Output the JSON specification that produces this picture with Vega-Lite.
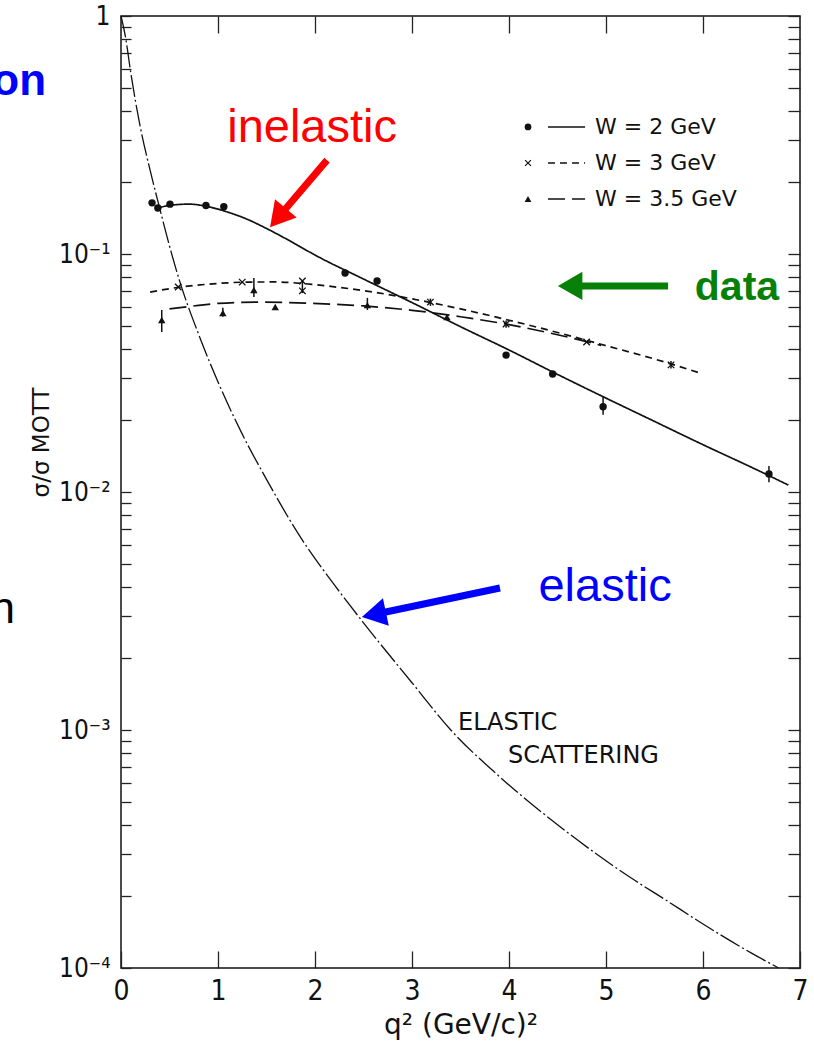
{
  "$schema": "https://vega.github.io/schema/vega-lite/v6.json",
  "width": 679,
  "height": 952,
  "autosize": {"type": "none"},
  "padding": {"left": 121, "top": 16, "right": 14, "bottom": 87},
  "background": "white",
  "config": {
    "view": {"stroke": "#111", "strokeWidth": 1.5},
    "axis": {"domain": false, "grid": false, "tickColor": "#222", "tickWidth": 1.3, "labelColor": "#111", "titleColor": "#111", "titleFontWeight": "normal"}
  },
  "resolve": {"axis": {"x": "independent", "y": "independent"}},
  "datasets": {
    "curves": [
      {"s": "W2", "q2": 0.38, "r": 0.156}, {"s": "W2", "q2": 0.5, "r": 0.160}, {"s": "W2", "q2": 0.7, "r": 0.162}, {"s": "W2", "q2": 0.9, "r": 0.158},
      {"s": "W2", "q2": 1.1, "r": 0.150}, {"s": "W2", "q2": 1.3, "r": 0.140}, {"s": "W2", "q2": 1.5, "r": 0.128}, {"s": "W2", "q2": 1.75, "r": 0.113},
      {"s": "W2", "q2": 2.0, "r": 0.099}, {"s": "W2", "q2": 2.5, "r": 0.0785}, {"s": "W2", "q2": 3.0, "r": 0.0625}, {"s": "W2", "q2": 3.5, "r": 0.0495},
      {"s": "W2", "q2": 4.0, "r": 0.0395}, {"s": "W2", "q2": 4.5, "r": 0.0312}, {"s": "W2", "q2": 5.0, "r": 0.0248}, {"s": "W2", "q2": 5.5, "r": 0.0198},
      {"s": "W2", "q2": 6.0, "r": 0.0158}, {"s": "W2", "q2": 6.5, "r": 0.0127}, {"s": "W2", "q2": 6.88, "r": 0.0107},
      {"s": "W3", "q2": 0.3, "r": 0.0692}, {"s": "W3", "q2": 0.6, "r": 0.0725}, {"s": "W3", "q2": 1.0, "r": 0.0752}, {"s": "W3", "q2": 1.3, "r": 0.0762},
      {"s": "W3", "q2": 1.6, "r": 0.0763}, {"s": "W3", "q2": 1.9, "r": 0.0750}, {"s": "W3", "q2": 2.2, "r": 0.0728}, {"s": "W3", "q2": 2.6, "r": 0.0692},
      {"s": "W3", "q2": 3.0, "r": 0.0648}, {"s": "W3", "q2": 3.5, "r": 0.0588}, {"s": "W3", "q2": 4.0, "r": 0.0527}, {"s": "W3", "q2": 4.5, "r": 0.0468},
      {"s": "W3", "q2": 5.0, "r": 0.0412}, {"s": "W3", "q2": 5.5, "r": 0.0362}, {"s": "W3", "q2": 5.95, "r": 0.0318},
      {"s": "W35", "q2": 0.5, "r": 0.0588}, {"s": "W35", "q2": 0.8, "r": 0.0608}, {"s": "W35", "q2": 1.0, "r": 0.0620}, {"s": "W35", "q2": 1.4, "r": 0.0628},
      {"s": "W35", "q2": 1.9, "r": 0.0622}, {"s": "W35", "q2": 2.5, "r": 0.0605}, {"s": "W35", "q2": 3.0, "r": 0.0580}, {"s": "W35", "q2": 3.5, "r": 0.0545},
      {"s": "W35", "q2": 4.0, "r": 0.0505}, {"s": "W35", "q2": 4.5, "r": 0.0458}, {"s": "W35", "q2": 4.95, "r": 0.0413}
    ],
    "elastic": [
      {"q2": 0, "r": 1.0}, {"q2": 0.05, "r": 0.80}, {"q2": 0.1, "r": 0.58}, {"q2": 0.2, "r": 0.34}, {"q2": 0.3, "r": 0.225},
      {"q2": 0.4, "r": 0.155}, {"q2": 0.5, "r": 0.108}, {"q2": 0.6, "r": 0.078}, {"q2": 0.8, "r": 0.046}, {"q2": 1.0, "r": 0.029},
      {"q2": 1.25, "r": 0.0175}, {"q2": 1.5, "r": 0.0113}, {"q2": 1.85, "r": 0.00646}, {"q2": 2.2, "r": 0.00407}, {"q2": 2.5, "r": 0.00282},
      {"q2": 3.0, "r": 0.00158}, {"q2": 3.4, "r": 0.00100}, {"q2": 3.9, "r": 0.000638}, {"q2": 4.6, "r": 0.000372}, {"q2": 5.0, "r": 0.000282},
      {"q2": 5.3, "r": 0.000233}, {"q2": 5.6, "r": 0.000195}, {"q2": 6.0, "r": 0.000153}, {"q2": 6.5, "r": 0.0001155}, {"q2": 6.78, "r": 0.0001}
    ],
    "points": [
      {"s": "W2", "q2": 0.32, "r": 0.164}, {"s": "W2", "q2": 0.38, "r": 0.156}, {"s": "W2", "q2": 0.505, "r": 0.162}, {"s": "W2", "q2": 0.876, "r": 0.160},
      {"s": "W2", "q2": 1.06, "r": 0.158}, {"s": "W2", "q2": 2.31, "r": 0.0832}, {"s": "W2", "q2": 2.64, "r": 0.077}, {"s": "W2", "q2": 3.97, "r": 0.0376},
      {"s": "W2", "q2": 4.45, "r": 0.0313}, {"s": "W2", "q2": 4.97, "r": 0.0228}, {"s": "W2", "q2": 6.68, "r": 0.0119},
      {"s": "W3", "q2": 0.59, "r": 0.0727}, {"s": "W3", "q2": 1.25, "r": 0.0762}, {"s": "W3", "q2": 1.87, "r": 0.0770}, {"s": "W3", "q2": 1.87, "r": 0.0700},
      {"s": "W3", "q2": 3.19, "r": 0.0628}, {"s": "W3", "q2": 3.97, "r": 0.0508}, {"s": "W3", "q2": 4.80, "r": 0.0427}, {"s": "W3", "q2": 5.67, "r": 0.0342},
      {"s": "W35", "q2": 0.42, "r": 0.0528}, {"s": "W35", "q2": 1.05, "r": 0.0565}, {"s": "W35", "q2": 1.37, "r": 0.0706}, {"s": "W35", "q2": 1.59, "r": 0.0599},
      {"s": "W35", "q2": 2.54, "r": 0.061}, {"s": "W35", "q2": 3.36, "r": 0.0543}
    ],
    "errs": [
      {"q2": 0.42, "lo": 0.047, "hi": 0.0582}, {"q2": 1.37, "lo": 0.066, "hi": 0.0793}, {"q2": 1.05, "lo": 0.0545, "hi": 0.0594},
      {"q2": 1.87, "lo": 0.0685, "hi": 0.0775}, {"q2": 2.54, "lo": 0.0582, "hi": 0.0654}, {"q2": 4.97, "lo": 0.0211, "hi": 0.0253},
      {"q2": 6.68, "lo": 0.0110, "hi": 0.01285}, {"q2": 3.19, "lo": 0.0605, "hi": 0.0650}, {"q2": 3.97, "lo": 0.0490, "hi": 0.0525},
      {"q2": 5.67, "lo": 0.0330, "hi": 0.0355}
    ],
    "legend": [
      {"s": "W2", "label": "W = 2  GeV", "r": 0.3418},
      {"s": "W3", "label": "W = 3  GeV", "r": 0.2412},
      {"s": "W35", "label": "W = 3.5  GeV", "r": 0.1703}
    ],
    "notes": [
      {"t": "inelastic", "q2": 1.97, "r": 0.2955, "k": "red"},
      {"t": "elastic", "q2": 4.99, "r": 0.003483, "k": "blue"},
      {"t": "data", "q2": 6.35, "r": 0.0641, "k": "green"},
      {"t": "ELASTIC", "q2": 3.474, "r": 0.001, "k": "plot"},
      {"t": "SCATTERING", "q2": 3.99, "r": 0.000727, "k": "plot"},
      {"t": "on", "q2": -0.773, "r": 0.466, "k": "slideblue"},
      {"t": "n", "q2": -1.093, "r": 0.00282, "k": "slideblack"}
    ],
    "arrows": [
      {"k": "red", "q2": 2.124, "r": 0.248, "q2e": 1.618, "re": 0.142},
      {"k": "green", "q2": 5.64, "r": 0.0734, "q2e": 4.63, "re": 0.0734},
      {"k": "blue", "q2": 3.907, "r": 0.00395, "q2e": 2.607, "re": 0.003056}
    ]
  },
  "layer": [
    {
      "data": {"name": "curves"},
      "mark": {"type": "line", "color": "#111", "strokeWidth": 1.7, "interpolate": "monotone"},
      "encoding": {
        "x": {"field": "q2", "type": "quantitative", "scale": {"domain": [0, 7], "nice": false, "zero": false},
          "axis": {"orient": "bottom", "values": [0, 1, 2, 3, 4, 5, 6, 7], "format": "d", "tickSize": -17, "labelPadding": 26, "labelFontSize": 28, "labelFlush": false,
            "labelFont": "Liberation Sans Narrow, DejaVu Sans Condensed, Liberation Sans, sans-serif",
            "title": "q² (GeV/c)²", "titleFont": "DejaVu Sans", "titleFontSize": 28, "titleY": 57, "titleBaseline": "middle"}},
        "y": {"field": "r", "type": "quantitative", "scale": {"type": "log", "domain": [0.0001, 1], "nice": false},
          "axis": {"orient": "left", "values": [0.0001, 0.0002, 0.0003, 0.0004, 0.0005, 0.0006, 0.0007, 0.0008, 0.0009, 0.001, 0.002, 0.003, 0.004, 0.005, 0.006, 0.007, 0.008, 0.009, 0.01, 0.02, 0.03, 0.04, 0.05, 0.06, 0.07, 0.08, 0.09, 0.1, 0.2, 0.3, 0.4, 0.5, 0.6, 0.7, 0.8, 0.9, 1],
            "labelExpr": "datum.value == 1 ? '1' : datum.value == 0.1 ? '10⁻¹' : datum.value == 0.01 ? '10⁻²' : datum.value == 0.001 ? '10⁻³' : datum.value == 0.0001 ? '10⁻⁴' : ''",
            "tickSize": -10, "labelPadding": 21, "labelFontSize": 26, "labelFlush": false, "labelOverlap": false,
            "labelFont": "Liberation Sans Narrow, DejaVu Sans Condensed, Liberation Sans, sans-serif",
            "title": "σ/σ MOTT", "titleFont": "DejaVu Sans", "titleFontSize": 23, "titleX": -80, "titleY": 426, "titleAngle": 270, "titleAlign": "center", "titleBaseline": "middle"}},
        "strokeDash": {"field": "s", "type": "nominal", "scale": {"domain": ["W2", "W3", "W35"], "range": [[1, 0], [7, 5], [17, 7]]}, "legend": null}
      }
    },
    {
      "data": {"name": "elastic"},
      "mark": {"type": "line", "color": "#111", "strokeWidth": 1.3, "interpolate": "monotone", "strokeDash": [22, 3, 2, 3]},
      "encoding": {
        "x": {"field": "q2", "type": "quantitative", "scale": {"domain": [0, 7], "nice": false, "zero": false}, "axis": null},
        "y": {"field": "r", "type": "quantitative", "scale": {"type": "log", "domain": [0.0001, 1], "nice": false}, "axis": null}
      }
    },
    {
      "data": {"name": "errs"},
      "mark": {"type": "rule", "color": "#111", "strokeWidth": 1.5},
      "encoding": {
        "x": {"field": "q2", "type": "quantitative", "scale": {"domain": [0, 7], "nice": false, "zero": false},
          "axis": {"orient": "top", "values": [1, 2, 3, 4, 5, 6], "tickSize": -17, "labels": false, "title": null}},
        "y": {"field": "lo", "type": "quantitative", "scale": {"type": "log", "domain": [0.0001, 1], "nice": false},
          "axis": {"orient": "right", "values": [0.0001, 0.0002, 0.0003, 0.0004, 0.0005, 0.0006, 0.0007, 0.0008, 0.0009, 0.001, 0.002, 0.003, 0.004, 0.005, 0.006, 0.007, 0.008, 0.009, 0.01, 0.02, 0.03, 0.04, 0.05, 0.06, 0.07, 0.08, 0.09, 0.1, 0.2, 0.3, 0.4, 0.5, 0.6, 0.7, 0.8, 0.9, 1], "tickSize": -12, "labels": false, "title": null}},
        "y2": {"field": "hi"}
      }
    },
    {
      "data": {"name": "points"},
      "mark": {"type": "point", "filled": true, "color": "#111", "opacity": 1, "size": 55},
      "encoding": {
        "x": {"field": "q2", "type": "quantitative", "scale": {"domain": [0, 7], "nice": false, "zero": false}, "axis": null},
        "y": {"field": "r", "type": "quantitative", "scale": {"type": "log", "domain": [0.0001, 1], "nice": false}, "axis": null},
        "shape": {"field": "s", "type": "nominal", "legend": null,
          "scale": {"domain": ["W2", "W3", "W35"], "range": ["circle", "M-1,-0.75L-0.75,-1L0,-0.25L0.75,-1L1,-0.75L0.25,0L1,0.75L0.75,1L0,0.25L-0.75,1L-1,0.75L-0.25,0Z", "triangle-up"]}}
      }
    },
    {
      "data": {"name": "legend"},
      "mark": {"type": "rule", "color": "#111", "strokeWidth": 1.5},
      "encoding": {
        "x": {"datum": 4.402, "type": "quantitative", "scale": {"domain": [0, 7], "nice": false, "zero": false}, "axis": null},
        "x2": {"datum": 4.784},
        "y": {"field": "r", "type": "quantitative", "scale": {"type": "log", "domain": [0.0001, 1], "nice": false}, "axis": null},
        "strokeDash": {"field": "s", "type": "nominal", "scale": {"domain": ["W2", "W3", "W35"], "range": [[1, 0], [7, 5], [17, 7]]}, "legend": null}
      }
    },
    {
      "data": {"name": "legend"},
      "mark": {"type": "point", "filled": true, "color": "#111", "opacity": 1, "size": 45},
      "encoding": {
        "x": {"datum": 4.196, "type": "quantitative", "scale": {"domain": [0, 7], "nice": false, "zero": false}, "axis": null},
        "y": {"field": "r", "type": "quantitative", "scale": {"type": "log", "domain": [0.0001, 1], "nice": false}, "axis": null},
        "shape": {"field": "s", "type": "nominal", "legend": null,
          "scale": {"domain": ["W2", "W3", "W35"], "range": ["circle", "M-1,-0.75L-0.75,-1L0,-0.25L0.75,-1L1,-0.75L0.25,0L1,0.75L0.75,1L0,0.25L-0.75,1L-1,0.75L-0.25,0Z", "triangle-up"]}}
      }
    },
    {
      "data": {"name": "legend"},
      "mark": {"type": "text", "align": "left", "baseline": "middle", "font": "DejaVu Sans", "fontSize": 22, "color": "#111"},
      "encoding": {
        "x": {"datum": 4.887, "type": "quantitative", "scale": {"domain": [0, 7], "nice": false, "zero": false}, "axis": null},
        "y": {"field": "r", "type": "quantitative", "scale": {"type": "log", "domain": [0.0001, 1], "nice": false}, "axis": null},
        "text": {"field": "label"}
      }
    },
    {
      "data": {"name": "notes"},
      "transform": [{"filter": "datum.k == 'plot'"}],
      "mark": {"type": "text", "align": "left", "baseline": "alphabetic", "font": "DejaVu Sans", "fontSize": 24, "color": "#111"},
      "encoding": {
        "x": {"field": "q2", "type": "quantitative", "scale": {"domain": [0, 7], "nice": false, "zero": false}, "axis": null},
        "y": {"field": "r", "type": "quantitative", "scale": {"type": "log", "domain": [0.0001, 1], "nice": false}, "axis": null},
        "text": {"field": "t"}
      }
    },
    {
      "data": {"name": "notes"},
      "transform": [{"filter": "datum.k == 'red' || datum.k == 'blue'"}],
      "mark": {"type": "text", "align": "center", "baseline": "alphabetic", "font": "Liberation Sans", "fontSize": 47},
      "encoding": {
        "x": {"field": "q2", "type": "quantitative", "scale": {"domain": [0, 7], "nice": false, "zero": false}, "axis": null},
        "y": {"field": "r", "type": "quantitative", "scale": {"type": "log", "domain": [0.0001, 1], "nice": false}, "axis": null},
        "text": {"field": "t"},
        "color": {"field": "k", "type": "nominal", "scale": {"domain": ["red", "green", "blue"], "range": ["#ff0000", "#078007", "#0000ff"]}, "legend": null}
      }
    },
    {
      "data": {"name": "notes"},
      "transform": [{"filter": "datum.k == 'green'"}],
      "mark": {"type": "text", "align": "center", "baseline": "alphabetic", "font": "Liberation Sans", "fontSize": 41, "fontWeight": "bold", "color": "#078007"},
      "encoding": {
        "x": {"field": "q2", "type": "quantitative", "scale": {"domain": [0, 7], "nice": false, "zero": false}, "axis": null},
        "y": {"field": "r", "type": "quantitative", "scale": {"type": "log", "domain": [0.0001, 1], "nice": false}, "axis": null},
        "text": {"field": "t"}
      }
    },
    {
      "data": {"name": "notes"},
      "transform": [{"filter": "datum.k == 'slideblue'"}],
      "mark": {"type": "text", "align": "right", "baseline": "alphabetic", "font": "Liberation Sans", "fontSize": 44, "fontWeight": "bold", "color": "#0000ff"},
      "encoding": {
        "x": {"field": "q2", "type": "quantitative", "scale": {"domain": [0, 7], "nice": false, "zero": false}, "axis": null},
        "y": {"field": "r", "type": "quantitative", "scale": {"type": "log", "domain": [0.0001, 1], "nice": false}, "axis": null},
        "text": {"field": "t"}
      }
    },
    {
      "data": {"name": "notes"},
      "transform": [{"filter": "datum.k == 'slideblack'"}],
      "mark": {"type": "text", "align": "right", "baseline": "alphabetic", "font": "Liberation Sans", "fontSize": 44, "color": "#000000"},
      "encoding": {
        "x": {"field": "q2", "type": "quantitative", "scale": {"domain": [0, 7], "nice": false, "zero": false}, "axis": null},
        "y": {"field": "r", "type": "quantitative", "scale": {"type": "log", "domain": [0.0001, 1], "nice": false}, "axis": null},
        "text": {"field": "t"}
      }
    },
    {
      "data": {"name": "arrows"},
      "mark": {"type": "rule", "strokeWidth": 7},
      "encoding": {
        "x": {"field": "q2", "type": "quantitative", "scale": {"domain": [0, 7], "nice": false, "zero": false}, "axis": null},
        "y": {"field": "r", "type": "quantitative", "scale": {"type": "log", "domain": [0.0001, 1], "nice": false}, "axis": null},
        "x2": {"field": "q2e"},
        "y2": {"field": "re"},
        "color": {"field": "k", "type": "nominal", "scale": {"domain": ["red", "green", "blue"], "range": ["#ff0000", "#078007", "#0000ff"]}, "legend": null}
      }
    },
    {
      "data": {"name": "arrows"},
      "transform": [{"filter": "datum.k == 'red'"}],
      "mark": {"type": "point", "shape": "triangle-up", "filled": true, "opacity": 1, "size": 800, "angle": 220, "color": "#ff0000"},
      "encoding": {
        "x": {"field": "q2e", "type": "quantitative", "scale": {"domain": [0, 7], "nice": false, "zero": false}, "axis": null},
        "y": {"field": "re", "type": "quantitative", "scale": {"type": "log", "domain": [0.0001, 1], "nice": false}, "axis": null}
      }
    },
    {
      "data": {"name": "arrows"},
      "transform": [{"filter": "datum.k == 'green'"}],
      "mark": {"type": "point", "shape": "triangle-up", "filled": true, "opacity": 1, "size": 800, "angle": 270, "color": "#078007"},
      "encoding": {
        "x": {"field": "q2e", "type": "quantitative", "scale": {"domain": [0, 7], "nice": false, "zero": false}, "axis": null},
        "y": {"field": "re", "type": "quantitative", "scale": {"type": "log", "domain": [0.0001, 1], "nice": false}, "axis": null}
      }
    },
    {
      "data": {"name": "arrows"},
      "transform": [{"filter": "datum.k == 'blue'"}],
      "mark": {"type": "point", "shape": "triangle-up", "filled": true, "opacity": 1, "size": 800, "angle": 258, "color": "#0000ff"},
      "encoding": {
        "x": {"field": "q2e", "type": "quantitative", "scale": {"domain": [0, 7], "nice": false, "zero": false}, "axis": null},
        "y": {"field": "re", "type": "quantitative", "scale": {"type": "log", "domain": [0.0001, 1], "nice": false}, "axis": null}
      }
    }
  ]
}
